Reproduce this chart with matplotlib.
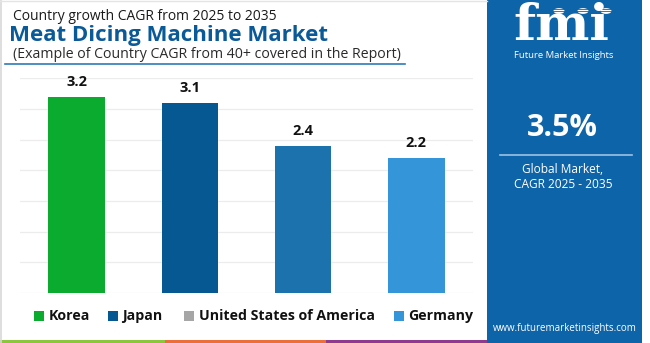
"""Bar chart of country CAGR for the meat dicing machine market, with side panel"""

import matplotlib.pyplot as plt
from matplotlib.patches import Rectangle, Circle
from matplotlib.lines import Line2D

COUNTRIES = ["Korea", "Japan", "United States of America", "Germany"]
CAGR = [3.2, 3.1, 2.4, 2.2]
BAR_COLORS = ["#0aab2e", "#055891", "#1c72ad", "#3496d8"]
LEGEND_COLORS = ["#0aab2e", "#055891", "#a6a6a6", "#3496d8"]
Y_TICKS = [0, 0.5, 1.0, 1.5, 2.0, 2.5, 3.0, 3.5]

TITLE_TOP = "Country growth CAGR from 2025 to 2035"
TITLE_MAIN = "Meat Dicing Machine Market"
SUBTITLE = "(Example of Country CAGR from 40+ covered in the Report)"
GLOBAL_CAGR = "3.5%"
GLOBAL_LABEL = "Global Market,\nCAGR 2025 - 2035"
WEBSITE = "www.futuremarketinsights.com"

W, H = 650, 343
PANEL_BLUE = "#0e64a8"
TITLE_BLUE = "#0b5a98"
FONT = "Open Sans"


def fx(px):
    return px / W


def fy(py):
    # pixel y from top -> figure fraction from bottom
    return 1 - py / H


fig = plt.figure(figsize=(W / 100, H / 100), dpi=100)
fig.patch.set_facecolor("white")

# main bar axes: x from 20 to 473 px, y from 0 (293 px) to 3.5 (78.4 px)
ax = fig.add_axes([fx(20), fy(293), fx(453), (293 - 78.4) / H])
ax.set_xlim(-0.5, len(COUNTRIES) - 0.5)
ax.set_ylim(0, 3.5)
for t in Y_TICKS:
    ax.axhline(t, color="#ececec", linewidth=0.9, zorder=0)
ax.bar(range(len(COUNTRIES)), CAGR, width=0.5, color=BAR_COLORS, zorder=2)
for i, v in enumerate(CAGR):
    ax.annotate(f"{v}", (i, v), xytext=(0, 11), textcoords="offset points",
                ha="center", va="center", fontsize=10.5, fontweight="bold",
                family=FONT, color="#111111")
ax.axis("off")

# titles
fig.text(fx(13), fy(16), TITLE_TOP, fontsize=10.0, family=FONT,
         color="#1a1a1a", va="center", ha="left")
fig.text(fx(9), fy(35), TITLE_MAIN, fontsize=16, family=FONT,
         fontweight="bold", color=TITLE_BLUE, va="center", ha="left")
fig.text(fx(13), fy(54), SUBTITLE, fontsize=10.2, family=FONT,
         color="#2a2a2a", va="center", ha="left")
fig.add_artist(Line2D([fx(5), fx(405)], [fy(64), fy(64)], color="#2f7ab8",
                      linewidth=1.2))

# thin frame on the left / top
fig.add_artist(Line2D([fx(0.8), fx(0.8)], [0, 1], color="#d8d8d8", linewidth=1.2))
fig.add_artist(Line2D([0, fx(487)], [fy(0.6), fy(0.6)], color="#e4e4e4", linewidth=1))

# legend
legend_items = [(34, 49), (108, 122), (184, 199), (394, 408)]
for (sq_x, tx_x), name, col in zip(legend_items, COUNTRIES, LEGEND_COLORS):
    fig.add_artist(Rectangle((fx(sq_x), fy(321)), fx(10), 10 / H,
                             facecolor=col, edgecolor="none"))
    fig.text(fx(tx_x), fy(316), name, fontsize=10.2, fontweight="bold",
             family=FONT, color="#111111", va="center", ha="left")

# coloured strips along the bottom
for x0, x1, col in [(0, 165, "#8cc63f"), (165, 326, "#ea6f3a"), (326, 487, "#8e3b8f")]:
    fig.add_artist(Rectangle((fx(x0), 0), fx(x1 - x0), 3 / H,
                             facecolor=col, edgecolor="none"))

# right panel
fig.add_artist(Rectangle((fx(487), 0), fx(155), 1, facecolor=PANEL_BLUE,
                         edgecolor="none"))

# logo: striped "fmi" with small globes
fig.text(fx(561), fy(27), "fmi", fontsize=37, fontweight="bold",
         family="DejaVu Serif", color="white", ha="center", va="center")
for k in range(16):
    yy = fy(9 + k * 2.3)
    fig.add_artist(Line2D([fx(505), fx(620)], [yy, yy], color=PANEL_BLUE,
                          linewidth=0.6))
for cx in (559, 583, 606):
    fig.add_artist(Circle((fx(cx), fy(11)), 5.5 / W, facecolor="white",
                          edgecolor="none", transform=fig.transFigure))
fig.text(fx(564), fy(55), "Future Market Insights", fontsize=6.8,
         family=FONT, color="white", ha="center", va="center")

fig.text(fx(562), fy(128), GLOBAL_CAGR, fontsize=22, fontweight="bold",
         family=FONT, color="white", ha="center", va="center")
fig.add_artist(Line2D([fx(500), fx(632)], [fy(155), fy(155)], color="#9cc2e2",
                      linewidth=1.2))
fig.text(fx(563), fy(177), GLOBAL_LABEL, fontsize=8.6, family=FONT,
         color="white", ha="center", va="center", linespacing=1.15)
fig.text(fx(565), fy(328), WEBSITE, fontsize=7, family=FONT,
         color="white", ha="center", va="center")

fig.savefig("out.png", dpi=100, facecolor="white")
